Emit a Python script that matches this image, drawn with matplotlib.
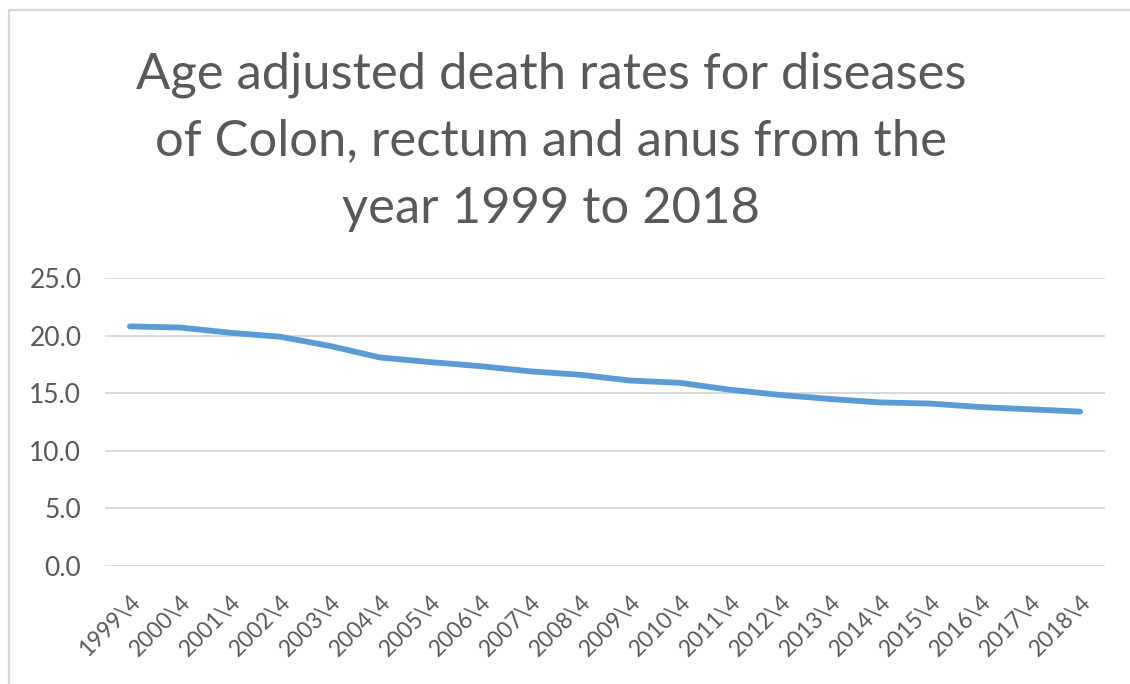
import matplotlib
matplotlib.use("Agg")
import matplotlib.pyplot as plt
from matplotlib.lines import Line2D

years = [1999, 2000, 2001, 2002, 2003, 2004, 2005, 2006, 2007, 2008,
         2009, 2010, 2011, 2012, 2013, 2014, 2015, 2016, 2017, 2018]
labels = [f"{y}\\4" for y in years]
rates = [20.8, 20.7, 20.25, 19.9, 19.1, 18.1, 17.7, 17.35, 16.9, 16.6,
         16.1, 15.9, 15.3, 14.85, 14.5, 14.2, 14.1, 13.8, 13.6, 13.4]
yticks = [0, 5, 10, 15, 20, 25]
title_lines = ["Age adjusted death rates for diseases",
               "of Colon, rectum and anus from the",
               "year 1999 to 2018"]

plt.rcParams['font.family'] = ['Lato', 'DejaVu Sans']
grey = '#595959'

W, H = 1130, 684
fig = plt.figure(figsize=(W / 100, H / 100), dpi=100)
ax = fig.add_axes([105 / W, 1 - 566 / H, 1000 / W, (566 - 278) / H])

x = list(range(len(years)))
ax.plot(x, rates, color='#5b9bd5', lw=4.2, solid_capstyle='round', solid_joinstyle='round')

ax.set_xlim(-0.5, len(years) - 0.5)
ax.set_ylim(0, 25)
ax.set_yticks(yticks)
ax.set_yticklabels([f"{v:.1f}" for v in yticks])
ax.set_xticks(x)
ax.set_xticklabels(labels, rotation=45, ha='right', rotation_mode='anchor')
ax.tick_params(length=0, colors=grey)
ax.tick_params(axis='x', pad=18, labelsize=16.5)
ax.tick_params(axis='y', pad=17, labelsize=19)
for s in ax.spines.values():
    s.set_visible(False)
ax.grid(axis='y', color='#d9d9d9', lw=1.4)
ax.set_axisbelow(True)

# title, one baseline per line
for line, base in zip(title_lines, [88, 155, 223]):
    fig.text(551 / W, 1 - base / H, line, ha='center', va='baseline',
             fontsize=36.5, color=grey)

# chart frame (left and top edges visible)
fig.add_artist(Line2D([9 / W, 9 / W, 1.0], [0.0, 1 - 10 / H, 1 - 10 / H],
                      transform=fig.transFigure, color='#d6d6d6', lw=1.6))

fig.savefig('out.png', dpi=100)
